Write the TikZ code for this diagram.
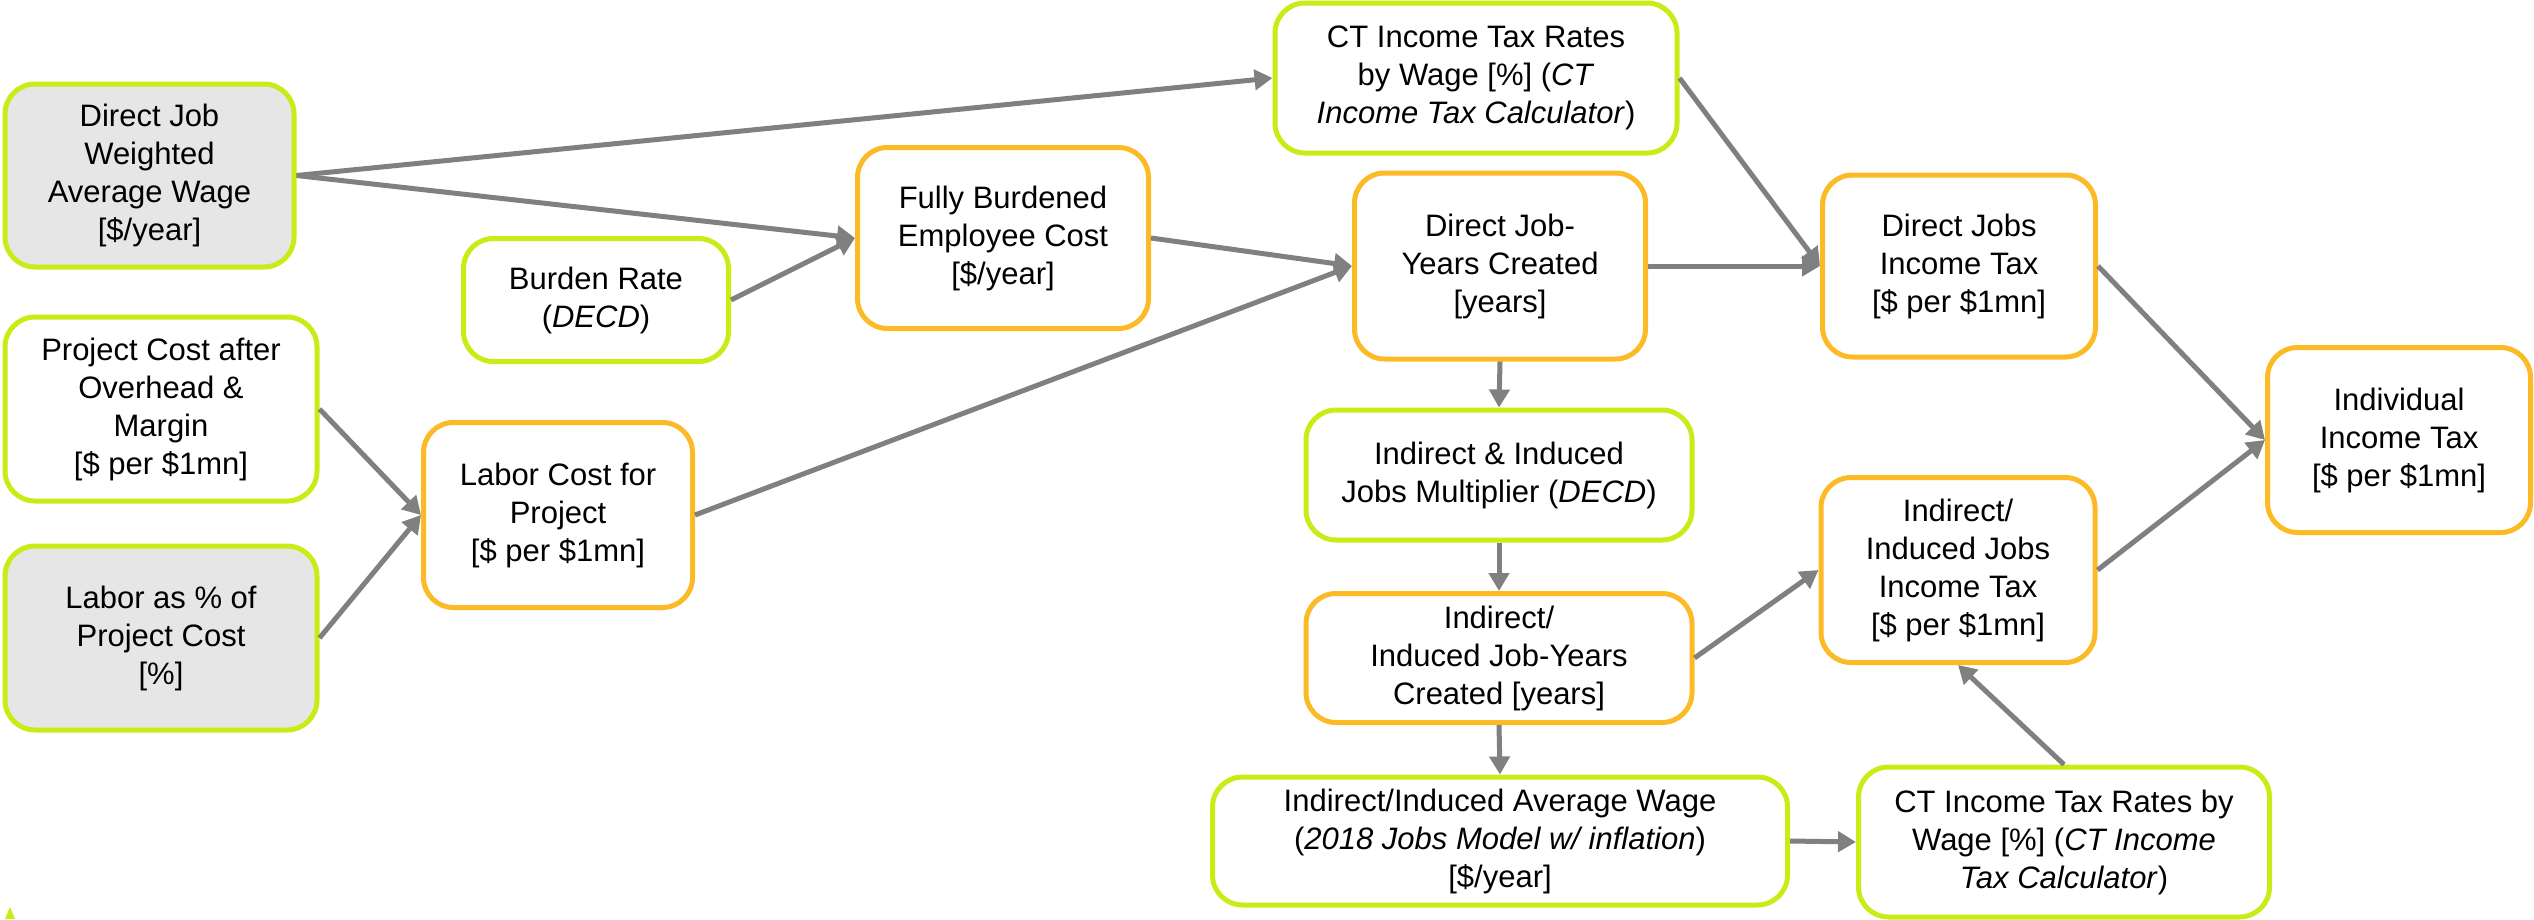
\documentclass[tikz,border=0pt]{standalone}
\usepackage{fontspec}
\setmainfont{Liberation Sans}
\usetikzlibrary{arrows.meta}
\definecolor{limeline}{RGB}{200,236,22}
\definecolor{orangeline}{RGB}{251,186,38}
\definecolor{inputfill}{RGB}{230,230,230}
\definecolor{arrowgray}{RGB}{128,128,128}
\begin{document}
\begin{tikzpicture}[x=1pt,y=-1pt,
  every node/.style={font=\fontsize{31}{38}\selectfont},
  box/.style={draw, line width=5pt, rounded corners=30pt, align=center, inner sep=0pt, fill=white},
  inbox/.style={box, draw=limeline},
  calcbox/.style={box, draw=orangeline},
  userin/.style={inbox, fill=inputfill},
  link/.style={draw=arrowgray, line width=5pt, -{Triangle[length=18pt,width=20pt]}}
]
\useasboundingbox (0,0) rectangle (2534,919);

% inputs on the left
\node[userin, minimum width=289pt, minimum height=183pt] (djw) at (149.5,175.5)
  {Direct Job\\Weighted\\Average Wage\\{[}\$/year]};
\node[inbox, minimum width=312pt, minimum height=184pt] (proj) at (161,409)
  {Project Cost after\\Overhead \&\\Margin\\{[}\$ per \$1mn]};
\node[userin, minimum width=312pt, minimum height=184pt] (lpct) at (161,638)
  {Labor as \% of\\Project Cost\\{[}\%]};

% burden and labour cost
\node[inbox, minimum width=265pt, minimum height=123pt] (burden) at (596,300)
  {Burden Rate\\(\textit{DECD})};
\node[calcbox, minimum width=291pt, minimum height=181pt] (fbec) at (1003,238)
  {Fully Burdened\\Employee Cost\\{[}\$/year]};
\node[calcbox, minimum width=269pt, minimum height=185pt] (labor) at (558,515)
  {Labor Cost for\\Project\\{[}\$ per \$1mn]};

% direct job chain
\node[inbox, minimum width=402pt, minimum height=150pt] (ctop) at (1476,78)
  {CT Income Tax Rates\\by Wage [\%] (\textit{CT}\\\textit{Income Tax Calculator})};
\node[calcbox, minimum width=291pt, minimum height=186pt] (djyc) at (1500,266)
  {Direct Job-\\Years Created\\{[}years]};
\node[calcbox, minimum width=273pt, minimum height=182pt] (djit) at (1959,266)
  {Direct Jobs\\Income Tax\\{[}\$ per \$1mn]};
\node[calcbox, minimum width=263pt, minimum height=185pt] (ind) at (2399,440)
  {Individual\\Income Tax\\{[}\$ per \$1mn]};

% indirect / induced chain
\node[inbox, minimum width=386pt, minimum height=130pt] (mult) at (1499,475)
  {Indirect \& Induced\\Jobs Multiplier (\textit{DECD})};
\node[calcbox, minimum width=386pt, minimum height=129pt] (iijyc) at (1499,658)
  {Indirect/\\Induced Job-Years\\Created [years]};
\node[calcbox, minimum width=274pt, minimum height=185pt] (iijit) at (1958,570)
  {Indirect/\\Induced Jobs\\Income Tax\\{[}\$ per \$1mn]};
\node[inbox, minimum width=575pt, minimum height=128pt] (iiaw) at (1500,841)
  {Indirect/Induced Average Wage\\(\textit{2018 Jobs Model w/ inflation})\\{[}\$/year]};
\node[inbox, minimum width=411pt, minimum height=150pt] (cbot) at (2064,842)
  {CT Income Tax Rates by\\Wage [\%] (\textit{CT Income}\\\textit{Tax Calculator})};

% connectors
\draw[link] (djw.east) -- (ctop.west);
\draw[link] (djw.east) -- (fbec.west);
\draw[link] (burden.east) -- (fbec.west);
\draw[link] (fbec.east) -- (djyc.west);
\draw[link] (labor.east) -- (djyc.west);
\draw[link] (proj.east) -- (labor.west);
\draw[link] (lpct.east) -- (labor.west);
\draw[link] (ctop.east) -- (djit.west);
\draw[link] (djyc.east) -- (djit.west);
\draw[link] (djit.east) -- (ind.west);
\draw[link] (iijit.east) -- (ind.west);
\draw[link] (djyc.south) -- (mult.north);
\draw[link] (mult.south) -- (iijyc.north);
\draw[link] (iijyc.east) -- (iijit.west);
\draw[link] (iijyc.south) -- (iiaw.north);
\draw[link] (iiaw.east) -- (cbot.west);
\draw[link] (cbot.north) -- (iijit.south);

% small corner mark
\fill[limeline] (5,919) -- (10,907) -- (15,919) -- cycle;
\end{tikzpicture}
\end{document}
